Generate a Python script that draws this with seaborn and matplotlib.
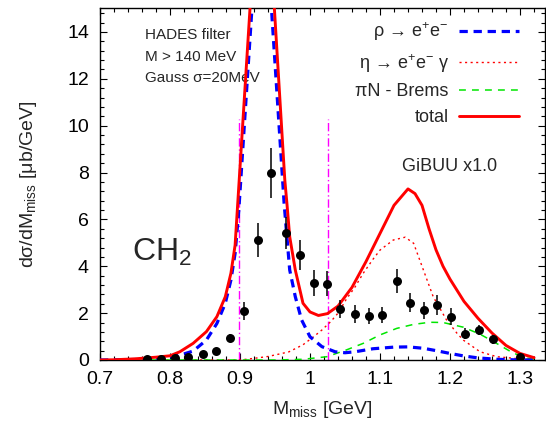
import numpy as np
import pandas as pd
import matplotlib
matplotlib.use("Agg")
import matplotlib.pyplot as plt
from matplotlib.ticker import MultipleLocator, FixedLocator, FixedFormatter
import seaborn as sns

# ---- measured spectrum (HADES, CH2 target) ----
m_data = [0.767, 0.787, 0.807, 0.826, 0.847, 0.866, 0.886, 0.906, 0.925, 0.944,
          0.965, 0.985, 1.005, 1.024, 1.043, 1.064, 1.084, 1.103, 1.124, 1.143,
          1.163, 1.182, 1.202, 1.221, 1.242, 1.261, 1.300]
xs_data = [0.03, 0.03, 0.085, 0.13, 0.27, 0.38, 0.93, 2.09, 5.12, 7.99,
           5.41, 4.48, 3.29, 3.26, 2.18, 1.96, 1.88, 1.92, 3.39, 2.45,
           2.13, 2.35, 1.85, 1.12, 1.28, 0.88, 0.14]
xs_err = [0.02, 0.02, 0.04, 0.05, 0.08, 0.10, 0.18, 0.38, 0.73, 1.06,
          0.68, 0.64, 0.55, 0.52, 0.37, 0.38, 0.33, 0.36, 0.51, 0.39,
          0.36, 0.43, 0.36, 0.23, 0.21, 0.19, 0.08]

# ---- GiBUU components ----
m_rho = [0.70, 0.75, 0.78, 0.80, 0.82, 0.833, 0.852, 0.867, 0.879, 0.887, 0.893,
         0.898, 0.931, 0.963, 0.967, 0.971, 0.979, 0.988, 1.000, 1.017, 1.036,
         1.050, 1.064, 1.090, 1.120, 1.140, 1.162, 1.180, 1.200, 1.220, 1.240,
         1.267, 1.300, 1.320]
xs_rho = [0.0, 0.02, 0.06, 0.12, 0.26, 0.38, 0.85, 1.56, 2.42, 3.41, 4.55,
          6.26, 21.4, 6.69, 5.26, 3.84, 2.70, 1.71, 0.99, 0.57, 0.35,
          0.31, 0.35, 0.48, 0.55, 0.56, 0.50, 0.40, 0.28, 0.17, 0.09,
          0.03, 0.0, 0.0]

m_eta = [0.70, 0.90, 0.92, 0.94, 0.96, 0.97, 0.99, 1.005, 1.017, 1.030, 1.040,
         1.052, 1.064, 1.076, 1.090, 1.100, 1.119, 1.136, 1.148, 1.162, 1.176,
         1.195, 1.210, 1.219, 1.243, 1.267, 1.300, 1.320]
xs_eta = [0.0, 0.0, 0.07, 0.15, 0.28, 0.35, 0.65, 0.99, 1.28, 1.65, 2.0,
          2.6, 3.1, 3.7, 4.3, 4.69, 5.12, 5.24, 4.98, 3.84, 2.70,
          1.71, 1.14, 0.85, 0.35, 0.14, 0.05, 0.02]

m_brems = [0.70, 0.95, 0.99, 1.024, 1.052, 1.076, 1.100, 1.124, 1.148, 1.171,
           1.190, 1.219, 1.243, 1.267, 1.290, 1.310, 1.320]
xs_brems = [0.0, 0.0, 0.03, 0.14, 0.43, 0.71, 1.07, 1.35, 1.52, 1.61,
            1.60, 1.40, 1.10, 0.70, 0.30, 0.08, 0.03]

m_total = [0.70, 0.72, 0.75, 0.78, 0.80, 0.814, 0.833, 0.852, 0.867, 0.879, 0.887,
           0.893, 0.932, 0.964, 0.967, 0.971, 0.979, 0.990, 1.000, 1.012, 1.025,
           1.040, 1.060, 1.080, 1.100, 1.120, 1.140, 1.150, 1.160, 1.170, 1.180,
           1.190, 1.200, 1.220, 1.240, 1.260, 1.280, 1.300, 1.320]
xs_total = [0.0, 0.01, 0.05, 0.12, 0.18, 0.35, 0.71, 1.21, 1.85, 2.70, 3.70,
            4.9, 23.4, 7.68, 6.69, 5.26, 3.84, 2.42, 2.05, 1.90, 1.98,
            2.30, 3.10, 4.20, 5.40, 6.60, 7.30, 7.10, 6.60, 5.60, 4.70,
            4.00, 3.45, 2.50, 1.78, 1.15, 0.62, 0.28, 0.10]

# mass window cuts
m_cuts = [0.898, 1.025]
cut_height = 10.3

x_ticks = [0.7, 0.8, 0.9, 1.0, 1.1, 1.2, 1.3]
x_ticklabels = ["0.7", "0.8", "0.9", "1", "1.1", "1.2", "1.3"]
y_ticks = [0, 2, 4, 6, 8, 10, 12, 14]

sns.set_theme(style="ticks")
plt.rcParams["font.family"] = ["Liberation Sans", "DejaVu Sans"]
plt.rcParams["mathtext.fontset"] = "custom"
plt.rcParams["mathtext.rm"] = "Liberation Sans"
plt.rcParams["mathtext.it"] = "Liberation Sans:italic"
plt.rcParams["mathtext.bf"] = "Liberation Sans:bold"

fig = plt.figure(figsize=(5.46, 4.28), dpi=100)
ax = fig.add_axes([100 / 546, 68 / 428, 445 / 546, 352 / 428])

RED = "#ff0000"
BLUE = "#0000ff"
GREEN = "#00e600"
MAGENTA = "#ff00ff"

for mc in m_cuts:
    ax.plot([mc, mc], [0, cut_height], color=MAGENTA, lw=1.0,
            dashes=(6, 2, 1, 2), zorder=2)

df_rho = pd.DataFrame({"m": m_rho, "xs": xs_rho})
df_eta = pd.DataFrame({"m": m_eta, "xs": xs_eta})
df_brems = pd.DataFrame({"m": m_brems, "xs": xs_brems})
df_total = pd.DataFrame({"m": m_total, "xs": xs_total})

sns.lineplot(data=df_rho, x="m", y="xs", ax=ax, color=BLUE, lw=2.3,
             estimator=None, sort=False, zorder=4,
             label=r"ρ → e$^{+}$e$^{-}$")
sns.lineplot(data=df_eta, x="m", y="xs", ax=ax, color=RED, lw=1.0,
             estimator=None, sort=False, zorder=3,
             label=r"η → e$^{+}$e$^{-}$ γ")
sns.lineplot(data=df_brems, x="m", y="xs", ax=ax, color=GREEN, lw=1.1,
             estimator=None, sort=False, zorder=3,
             label="πN - Brems")
sns.lineplot(data=df_total, x="m", y="xs", ax=ax, color=RED, lw=2.1,
             estimator=None, sort=False, zorder=5, label="total")

lines = ax.get_lines()
lines[-4].set_dashes((2.6, 1.8))
lines[-3].set_dashes((1.5, 2.5))
lines[-2].set_dashes((4.5, 4))

ax.errorbar(m_data, xs_data, yerr=xs_err, fmt="none", ecolor="black",
            elinewidth=1.1, capsize=0, zorder=6)
sns.scatterplot(x=m_data, y=xs_data, ax=ax, color="black", s=42,
                edgecolor="black", linewidth=0, zorder=7)

ax.set_xlim(0.7, 1.3357)
ax.set_ylim(0, 15.02)

ax.xaxis.set_major_locator(FixedLocator(x_ticks))
ax.xaxis.set_major_formatter(FixedFormatter(x_ticklabels))
ax.xaxis.set_minor_locator(MultipleLocator(0.02))
ax.yaxis.set_major_locator(FixedLocator(y_ticks))
ax.yaxis.set_minor_locator(MultipleLocator(0.4))
ax.tick_params(which="both", direction="in", top=True, right=True,
               colors="black", labelsize=14, width=0.8)
ax.tick_params(which="major", length=5, pad=8)
ax.tick_params(which="minor", length=3)
for s in ax.spines.values():
    s.set_color("black")
    s.set_linewidth(1.0)

ax.set_xlabel(r"M$_{\mathrm{miss}}$ [GeV]", fontsize=14, labelpad=8)
ax.set_ylabel(r"dσ/dM$_{\mathrm{miss}}$ [μb/GeV]", fontsize=14, labelpad=20)

ax.text(0.764, 13.87, "HADES filter", fontsize=11, va="center", ha="left")
ax.text(0.764, 12.93, "M > 140 MeV", fontsize=11, va="center", ha="left")
ax.text(0.764, 12.03, "Gauss σ=20MeV", fontsize=11, va="center", ha="left")
ax.text(1.2, 8.24, "GiBUU x1.0", fontsize=13, va="center", ha="center")
ax.text(0.746, 4.57, r"CH$_2$", fontsize=23, va="center", ha="left")

leg = ax.legend(loc="upper right", bbox_to_anchor=(0.97, 1.0),
                markerfirst=False, frameon=False, fontsize=13,
                handlelength=3.3, handletextpad=0.6, labelspacing=0.48,
                borderaxespad=0.3)

fig.savefig("out.png", dpi=100)
